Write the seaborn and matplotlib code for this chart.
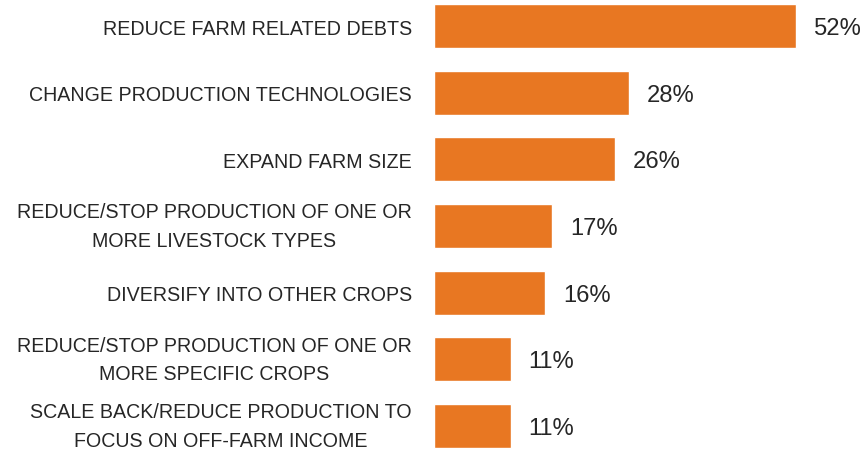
import matplotlib
matplotlib.use("Agg")
import matplotlib.pyplot as plt
from matplotlib import font_manager
import seaborn as sns
import pandas as pd

# Planned responses and share of respondents (%)
actions = [
    "REDUCE FARM RELATED DEBTS",
    "CHANGE PRODUCTION TECHNOLOGIES",
    "EXPAND FARM SIZE",
    "REDUCE/STOP PRODUCTION OF ONE OR\nMORE LIVESTOCK TYPES",
    "DIVERSIFY INTO OTHER CROPS",
    "REDUCE/STOP PRODUCTION OF ONE OR\nMORE SPECIFIC CROPS",
    "SCALE BACK/REDUCE PRODUCTION TO\nFOCUS ON OFF-FARM INCOME",
]
shares = [52, 28, 26, 17, 16, 11, 11]

df = pd.DataFrame({"action": actions, "share": shares})

sns.set_theme(style="white")

available = {f.name for f in font_manager.fontManager.ttflist}
label_font = "Liberation Sans" if "Liberation Sans" in available else "DejaVu Sans"
plt.rcParams["font.family"] = [label_font, "DejaVu Sans"]

BAR = "#E87722"
TEXT = "#262626"

fig = plt.figure(figsize=(8.66, 4.56), dpi=100)
ax = fig.add_axes([434 / 866, 0, 1 - 434 / 866, 1])

sns.barplot(data=df, x="share", y="action", orient="h", color=BAR,
            width=0.66, saturation=1, ax=ax)

ax.set_xlim(0, 62)
ax.set_ylim(6.435, -0.405)
ax.set_xlabel("")
ax.set_ylabel("")
ax.set_xticks([])
for s in ax.spines.values():
    s.set_visible(False)

ax.tick_params(axis="y", length=0, pad=16)
for lbl in ax.get_yticklabels():
    lbl.set_fontsize(14.1)
    lbl.set_color(TEXT)
    lbl.set_multialignment("center")
    lbl.set_linespacing(1.62)
    if "\n" in lbl.get_text():
        lbl.set_verticalalignment("center")

for i, v in enumerate(shares):
    ax.annotate(f"{v}%", xy=(v, i), xytext=(13, -1.5), textcoords="offset points",
                ha="left", va="center", fontsize=17.1, color=TEXT)

fig.savefig("out.png", dpi=100)
